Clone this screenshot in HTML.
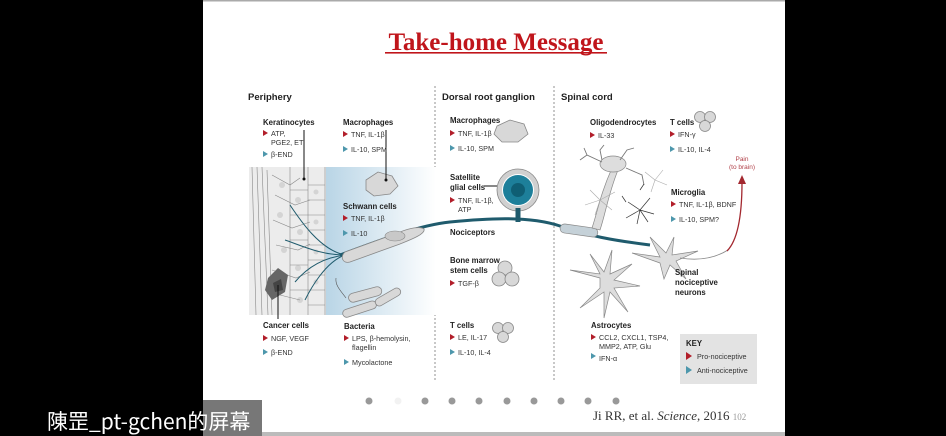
<!DOCTYPE html>
<html><head><meta charset="utf-8"><style>
html,body{margin:0;padding:0;background:#000;width:946px;height:436px;overflow:hidden}
svg{display:block}
.t{font-family:"Liberation Sans Narrow","Liberation Sans",sans-serif;font-size:7.2px;fill:#333}
.b{font-family:"Liberation Sans Narrow","Liberation Sans",sans-serif;font-size:7.8px;font-weight:bold;fill:#222}
.h{font-family:"Liberation Sans Narrow","Liberation Sans",sans-serif;font-size:9.5px;font-weight:bold;fill:#222}
.cell{fill:#d8d8d8;stroke:#888;stroke-width:0.8}
.br{stroke:#777;stroke-width:0.9;fill:none}
</style></head><body>
<svg width="946" height="436" viewBox="0 0 946 436" xmlns="http://www.w3.org/2000/svg">
<defs>
<linearGradient id="bl" x1="0" x2="1" y1="0" y2="0"><stop offset="0" stop-color="#b9d5e6"/><stop offset="1" stop-color="#fff"/></linearGradient>
</defs>
<rect x="203" y="0" width="582" height="433" fill="#fff"/>
<rect x="203" y="0" width="582" height="1.5" fill="#aaa"/>
<rect x="203" y="432" width="582" height="4" fill="#bbb"/>
<text x="496" y="50" text-anchor="middle" font-family="Liberation Serif,serif" font-weight="bold" font-size="25" fill="#c0151b">Take-home Message</text>
<rect x="385" y="52" width="222" height="1.6" fill="#c0151b"/>

<line x1="435" y1="86" x2="435" y2="382" stroke="#777" stroke-dasharray="2,2" stroke-width="0.8"/>
<line x1="554" y1="86" x2="554" y2="382" stroke="#777" stroke-dasharray="2,2" stroke-width="0.8"/>

<text class="h" x="248" y="100">Periphery</text>
<text class="h" x="442" y="100">Dorsal root ganglion</text>
<text class="h" x="561" y="100">Spinal cord</text>

<!-- tissue -->
<rect x="326" y="167" width="110" height="148" fill="url(#bl)"/>
<rect x="249" y="167" width="77" height="148" fill="#ececec"/>
<g fill="#d4d4d4">
<circle cx="282" cy="185" r="3"/><circle cx="298" cy="200" r="3"/><circle cx="280" cy="215" r="3"/><circle cx="300" cy="232" r="3"/><circle cx="284" cy="250" r="3"/><circle cx="298" cy="268" r="3"/><circle cx="300" cy="300" r="3"/><circle cx="316" cy="192" r="2.5"/><circle cx="316" cy="222" r="2.5"/><circle cx="316" cy="252" r="2.5"/><circle cx="316" cy="282" r="2.5"/>
</g>
<g stroke="#888" stroke-width="0.6" fill="none">
<path d="M252 167 L256 315 M257 167 L262 315 M262 167 L268 315 M267 170 L272 315"/>
<path d="M272 175 L290 185 L300 178 M275 195 L295 205 L310 200 M273 220 L292 228 L310 222 M276 245 L298 250 L310 244 M272 270 L296 278 L310 272 M280 295 L300 300"/>
<path d="M290 167 V315 M308 167 V315 M325 167 V315"/>
<path d="M308 185 H325 M308 200 H325 M308 215 H325 M308 230 H325 M308 245 H325 M308 260 H325 M308 275 H325 M308 290 H325 M308 305 H325"/>
<path d="M290 190 H308 M290 215 H308 M290 240 H308 M290 265 H308 M290 290 H308"/>
</g>
<path d="M268 278 L278 268 L288 275 L285 292 L272 300 L265 290 Z" fill="#666"/>
<path d="M273 283 L281 279 L283 290 L275 292Z" fill="#444"/>
<g stroke="#1f5b6d" stroke-width="1" fill="none">
<path d="M345 255 C320 250 300 220 290 205"/>
<path d="M345 255 C320 255 300 245 285 240"/>
<path d="M345 255 C320 258 305 270 295 282"/>
<path d="M345 255 C325 262 310 290 305 300"/>
</g>
<path d="M340 255 C380 240 420 225 450 222 C490 218 530 216 560 226 C590 236 610 240 650 245" stroke="#1f5b6d" stroke-width="3" fill="none"/>
<path d="M345 252 L400 232 C410 228 420 226 424 229 C426 234 410 240 400 244 L350 262 C342 264 340 256 345 252Z" class="cell"/>
<ellipse cx="395" cy="236" rx="10" ry="5" fill="#c8c8c8" stroke="#888" stroke-width="0.6"/>
<path d="M366 180 L378 172 L392 176 L398 186 L390 194 L374 196 L366 190Z" class="cell"/>
<rect x="348" y="290" width="34" height="9" rx="4.5" class="cell" transform="rotate(-15 365 294)"/>
<rect x="342" y="305" width="35" height="8" rx="4" class="cell" transform="rotate(-18 360 309)"/>
<rect x="374" y="293" width="28" height="8" rx="4" class="cell" transform="rotate(-30 388 297)"/>
<path d="M346 298 C340 290 335 285 336 278" stroke="#555" stroke-width="0.6" fill="none"/>

<line x1="304" y1="130" x2="304" y2="178" stroke="#111" stroke-width="1"/>
<circle cx="304" cy="179" r="1.5" fill="#111"/>
<line x1="386" y1="130" x2="386" y2="180" stroke="#111" stroke-width="1"/>
<circle cx="386" cy="180" r="1.5" fill="#111"/>
<line x1="278" y1="285" x2="278" y2="319" stroke="#111" stroke-width="1"/>

<g>
<text class="b" x="263" y="125">Keratinocytes</text>
<path d="M263 130 l5 3 -5 3z" fill="#b21e2a"/><text class="t" x="271" y="136">ATP,</text>
<text class="t" x="271" y="145">PGE2, ET</text>
<path d="M263 151 l5 3 -5 3z" fill="#4d97ac"/><text class="t" x="271" y="157">β-END</text>
<text class="b" x="343" y="125">Macrophages</text>
<path d="M343 131 l5 3 -5 3z" fill="#b21e2a"/><text class="t" x="351" y="137">TNF, IL-1β</text>
<path d="M343 146 l5 3 -5 3z" fill="#4d97ac"/><text class="t" x="351" y="152">IL-10, SPM</text>
<text class="b" x="343" y="209">Schwann cells</text>
<path d="M343 215 l5 3 -5 3z" fill="#b21e2a"/><text class="t" x="351" y="221">TNF, IL-1β</text>
<path d="M343 230 l5 3 -5 3z" fill="#4d97ac"/><text class="t" x="351" y="236">IL-10</text>
<text class="b" x="263" y="328">Cancer cells</text>
<path d="M263 335 l5 3 -5 3z" fill="#b21e2a"/><text class="t" x="271" y="341">NGF, VEGF</text>
<path d="M263 349 l5 3 -5 3z" fill="#4d97ac"/><text class="t" x="271" y="355">β-END</text>
<text class="b" x="344" y="329">Bacteria</text>
<path d="M344 335 l5 3 -5 3z" fill="#b21e2a"/><text class="t" x="352" y="341">LPS, β-hemolysin,</text>
<text class="t" x="352" y="350">flagellin</text>
<path d="M344 359 l5 3 -5 3z" fill="#4d97ac"/><text class="t" x="352" y="365">Mycolactone</text>
</g>

<!-- DRG -->
<path d="M497 126 L510 120 L524 124 L528 134 L518 142 L502 142 L494 134Z" class="cell"/>
<circle cx="518" cy="190" r="21" fill="#d0d0d0" stroke="#888" stroke-width="0.8"/>
<circle cx="518" cy="190" r="16" fill="#fff"/>
<circle cx="518" cy="190" r="15" fill="#1d7f9a"/>
<circle cx="518" cy="190" r="7" fill="#0f5e74"/>
<rect x="515.5" y="208" width="5" height="14" fill="#1f5b6d"/>
<line x1="484" y1="186" x2="497" y2="186" stroke="#111" stroke-width="1"/>
<circle cx="505" cy="268" r="7" class="cell"/><circle cx="499" cy="279" r="7" class="cell"/><circle cx="512" cy="279" r="7" class="cell"/>
<circle cx="498" cy="328" r="5.5" class="cell"/><circle cx="508" cy="328" r="5.5" class="cell"/><circle cx="503" cy="337" r="5.5" class="cell"/>
<g>
<text class="b" x="450" y="123">Macrophages</text>
<path d="M450 130 l5 3 -5 3z" fill="#b21e2a"/><text class="t" x="458" y="136">TNF, IL-1β</text>
<path d="M450 145 l5 3 -5 3z" fill="#4d97ac"/><text class="t" x="458" y="151">IL-10, SPM</text>
<text class="b" x="450" y="180">Satellite</text>
<text class="b" x="450" y="190">glial cells</text>
<path d="M450 197 l5 3 -5 3z" fill="#b21e2a"/><text class="t" x="458" y="203">TNF, IL-1β,</text>
<text class="t" x="458" y="212">ATP</text>
<text class="b" x="450" y="235">Nociceptors</text>
<text class="b" x="450" y="263">Bone marrow</text>
<text class="b" x="450" y="273">stem cells</text>
<path d="M450 280 l5 3 -5 3z" fill="#b21e2a"/><text class="t" x="458" y="286">TGF-β</text>
<text class="b" x="450" y="328">T cells</text>
<path d="M450 334 l5 3 -5 3z" fill="#b21e2a"/><text class="t" x="458" y="340">LE, IL-17</text>
<path d="M450 349 l5 3 -5 3z" fill="#4d97ac"/><text class="t" x="458" y="355">IL-10, IL-4</text>
</g>

<!-- Spinal cord cells -->
<rect x="560" y="226" width="38" height="9" rx="4.5" fill="#c5d1d8" stroke="#888" stroke-width="0.7" transform="rotate(8 579 230)"/>
<path d="M592 228 C598 210 600 195 612 168 L618 170 C608 195 606 212 600 230Z" fill="#ddd" stroke="#888" stroke-width="0.7"/>
<ellipse cx="613" cy="164" rx="13" ry="8" fill="#ddd" stroke="#888" stroke-width="0.7"/>
<g class="br">
<path d="M602 162 L587 155 L584 148 M587 155 L580 160 M602 160 L600 150 L604 145 M620 160 L627 150 L634 148 M626 168 L642 175 L644 185"/>
</g>
<g stroke="#aaa" stroke-width="0.6" fill="none">
<path d="M600 200 l-15 5 m15 -5 l-10 -10 m10 10 l-5 15 m5 -15 l15 -8 m-15 8 l12 10 M655 180 l-10 -8 m10 8 l8 -10 m-8 10 l12 5 m-12 -5 l-4 12"/>
</g>
<g stroke="#333" stroke-width="0.7" fill="none">
<path d="M640 210 l-12 -8 m12 8 l10 -12 m-10 12 l14 4 m-14 -4 l-3 14 m3 -14 l-14 8 m14 -8 l8 12 m-22 -20 l-4 -6 m18 -6 l4 -6"/>
</g>
<g fill="#ddd" stroke="#888" stroke-width="0.7">
<path d="M600 278 l-30 -8 l30 4 l-10 -20 l14 18 l8 -22 l-2 24 l22 -10 l-18 16 l26 6 l-26 2 l14 24 l-18 -20 l-6 26 l0 -26 l-24 16 l20 -20z"/>
<path d="M660 263 l-28 -10 l28 4 l-10 -20 l16 16 l8 -16 l-2 18 l26 -4 l-22 10 l10 18 l-16 -14 l-6 14z"/>
</g>
<path d="M680 258 C705 262 720 255 728 250" stroke="#888" stroke-width="0.8" fill="none"/>
<path d="M727 251 C738 240 742 215 742 182" stroke="#a3282f" stroke-width="1.3" fill="none"/>
<path d="M738 184 L742 175 L746 184Z" fill="#a3282f"/>
<circle cx="700" cy="117" r="5.5" class="cell"/><circle cx="710" cy="117" r="5.5" class="cell"/><circle cx="705" cy="126" r="5.5" class="cell"/>
<g>
<text class="b" x="590" y="125">Oligodendrocytes</text>
<path d="M590 132 l5 3 -5 3z" fill="#b21e2a"/><text class="t" x="598" y="138">IL-33</text>
<text class="b" x="670" y="125">T cells</text>
<path d="M670 131 l5 3 -5 3z" fill="#b21e2a"/><text class="t" x="678" y="137">IFN-γ</text>
<path d="M670 146 l5 3 -5 3z" fill="#4d97ac"/><text class="t" x="678" y="152">IL-10, IL-4</text>
<text x="742" y="161" text-anchor="middle" font-family="Liberation Sans Narrow,Liberation Sans,sans-serif" font-size="6.5" fill="#b04048">Pain</text>
<text x="742" y="169" text-anchor="middle" font-family="Liberation Sans Narrow,Liberation Sans,sans-serif" font-size="6.5" fill="#b04048">(to brain)</text>
<text class="b" x="671" y="195">Microglia</text>
<path d="M671 201 l5 3 -5 3z" fill="#b21e2a"/><text class="t" x="679" y="207">TNF, IL-1β, BDNF</text>
<path d="M671 216 l5 3 -5 3z" fill="#4d97ac"/><text class="t" x="679" y="222">IL-10, SPM?</text>
<text class="b" x="675" y="275">Spinal</text>
<text class="b" x="675" y="285">nociceptive</text>
<text class="b" x="675" y="295">neurons</text>
<text class="b" x="591" y="328">Astrocytes</text>
<path d="M591 334 l5 3 -5 3z" fill="#b21e2a"/><text class="t" x="599" y="340">CCL2, CXCL1, TSP4,</text>
<text class="t" x="599" y="349">MMP2, ATP, Glu</text>
<path d="M591 353 l5 3 -5 3z" fill="#4d97ac"/><text class="t" x="599" y="361">IFN-α</text>
</g>
<rect x="680" y="334" width="77" height="50" fill="#e3e3e3"/>
<text class="b" x="686" y="346">KEY</text>
<path d="M686 352 l6 4 -6 4z" fill="#b21e2a"/><text class="t" x="697" y="359">Pro-nociceptive</text>
<path d="M686 366 l6 4 -6 4z" fill="#4d97ac"/><text class="t" x="697" y="373">Anti-nociceptive</text>

<g fill="#999">
<circle cx="369" cy="401" r="3.5"/><circle cx="398" cy="401" r="3.5" fill="#f2f2f2"/><circle cx="425" cy="401" r="3.5"/><circle cx="452" cy="401" r="3.5"/><circle cx="479" cy="401" r="3.5"/><circle cx="507" cy="401" r="3.5"/><circle cx="534" cy="401" r="3.5"/><circle cx="561" cy="401" r="3.5"/><circle cx="588" cy="401" r="3.5"/><circle cx="616" cy="401" r="3.5"/>
</g>
<text x="593" y="420" font-family="Liberation Serif,serif" font-size="13" fill="#333">Ji RR, et al. <tspan font-style="italic">Science</tspan>, 2016 <tspan font-size="9" fill="#999">102</tspan></text>

<rect x="203" y="400" width="59" height="36" fill="#777"/>
<text x="47" y="429" font-family="'WenQuanYi Zen Hei','Noto Sans CJK SC',sans-serif" font-size="21" fill="#fff">陳罡_pt-gchen的屏幕</text>
</svg>
</body></html>
